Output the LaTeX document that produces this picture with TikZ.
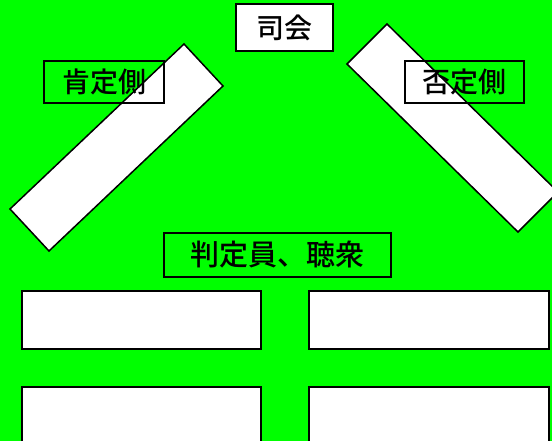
\documentclass[tikz,border=0pt]{standalone}
\usepackage{fontspec}
\newfontfamily\jpfont{Noto Sans CJK JP Medium}
\definecolor{bg}{HTML}{00FF00}
\tikzset{
  panel/.style={draw=black, fill=white, line width=1.5pt, line join=miter},
  labelbox/.style={inner sep=0pt, font=\jpfont\fontsize{28}{28}\selectfont, text=black},
  frame/.style={draw=black, line width=1.8pt},
  seat/.style={draw=black, fill=white, line width=1.5pt, inner sep=0pt, minimum width=239pt, minimum height=58pt}
}
\begin{document}
\begin{tikzpicture}[x=1pt, y=-1pt]
\fill[bg] (0,0) rectangle (552,441);
\useasboundingbox (0,0) rectangle (552,441);
\clip (0,0) rectangle (552,441);
% tilted tables
\draw[panel] (184,44) -- (223,86) -- (49,251) -- (10,209) -- cycle;
\draw[panel] (387,24) -- (558,192) -- (518,232) -- (347,64) -- cycle;
% labels
\node[labelbox, fill=white, minimum width=97pt, minimum height=47pt] (mc) at (284.5,27.5) {司会};
\node[labelbox, minimum width=120pt, minimum height=41pt] (aff) at (104,82) {肯定側};
\node[labelbox, minimum width=119pt, minimum height=41pt] (neg) at (464.5,82) {否定側};
\node[labelbox, minimum width=227pt, minimum height=43pt, font=\jpfont\fontsize{29}{29}\selectfont] (judge) at (277.5,255) {判定員、聴衆};
\draw[frame] (mc.north west) rectangle (mc.south east);
\draw[frame] (aff.north west) rectangle (aff.south east);
\draw[frame] (neg.north west) rectangle (neg.south east);
\draw[frame] (judge.north west) rectangle (judge.south east);
% audience seats
\node[seat, anchor=north west] (s1) at (21,290) {};
\node[seat, anchor=north west, minimum width=240pt] (s2) at (308,290) {};
\node[seat, anchor=north west] (s3) at (21,386) {};
\node[seat, anchor=north west, minimum width=240pt] (s4) at (308,386) {};
\end{tikzpicture}
\end{document}
